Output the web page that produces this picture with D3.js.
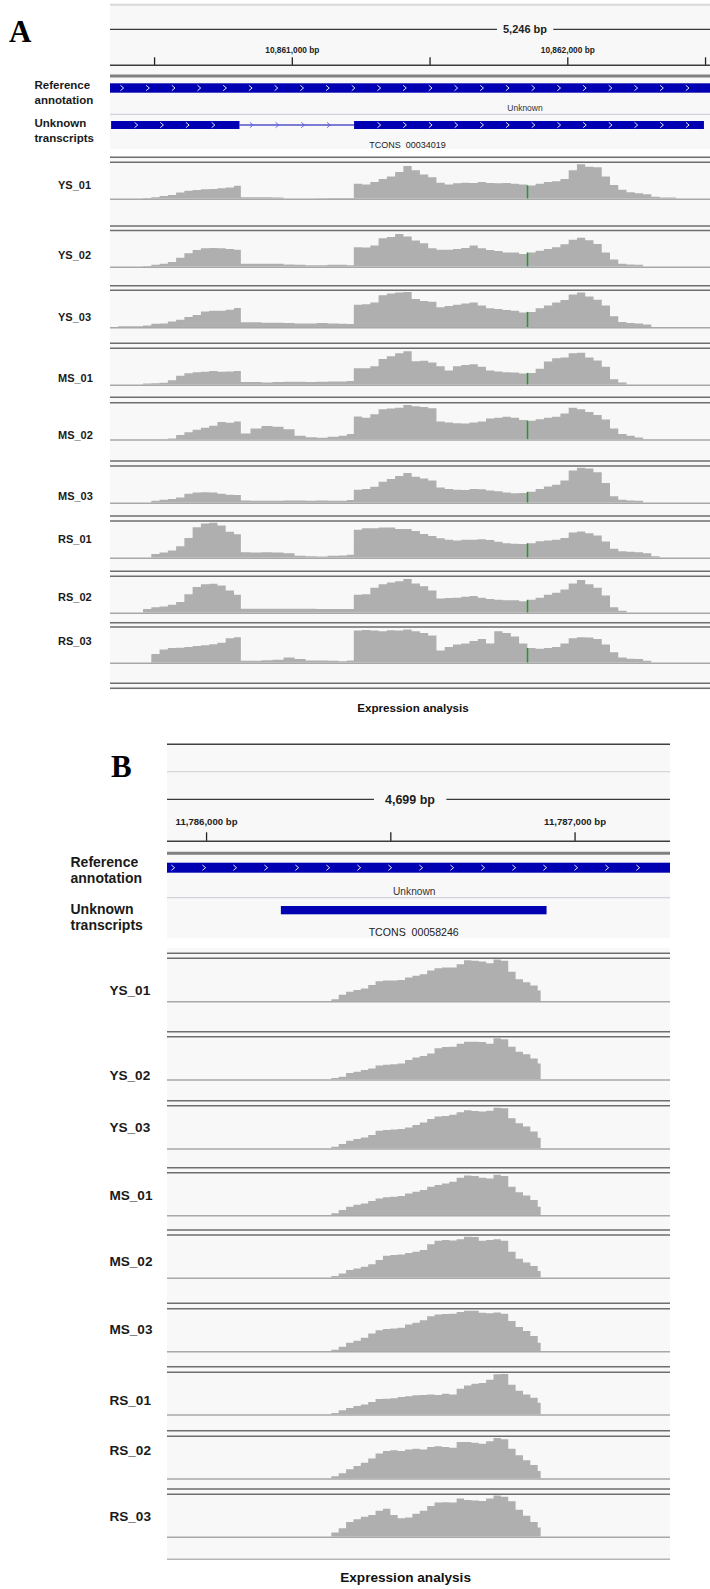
<!DOCTYPE html>
<html>
<head>
<meta charset="utf-8">
<script src="https://cdn.jsdelivr.net/npm/d3@7"></script>
<style>
  body { margin: 0; background: #fff; }
  text { font-family: "Liberation Sans", Arial, sans-serif; }
</style>
</head>
<body>
<div id="chart"></div>
<script>
// ---- data ----
const samples = ["YS_01", "YS_02", "YS_03", "MS_01", "MS_02", "MS_03", "RS_01", "RS_02", "RS_03"];

// panel A: locus around 10,861,000 bp
const spanLabelA = "5,246 bp";
const ticksA = [10860500, 10861000, 10861500, 10862000, 10862500];
const refFeatureA = [10860304, 10863389];
const exonsA = [[10860344, 10860810], [10861226, 10862496]];
const transcriptA = "TCONS  00034019";
const snpA = 10861855;

// coverage bins (bin start, bp) and relative depth (% of autoscale max)
const binsA = [10860370, 10860400, 10860430, 10860460, 10860490, 10860520, 10860550, 10860580, 10860610, 10860640,
  10860670, 10860700, 10860730, 10860760, 10860790,
  10860815, 10860850, 10860890, 10860930, 10860970, 10861010, 10861050, 10861090, 10861130, 10861170, 10861200,
  10861225, 10861255, 10861285, 10861315, 10861345, 10861375, 10861405, 10861435, 10861465, 10861495,
  10861525, 10861555, 10861585, 10861615, 10861645, 10861675, 10861705, 10861735, 10861765, 10861795,
  10861825, 10861855, 10861885, 10861915, 10861945, 10861975, 10862005, 10862035, 10862065, 10862095,
  10862125, 10862155, 10862185, 10862215, 10862245, 10862275, 10862305, 10862335, 10862365, 10862395];

const aYS01 = [0,0,0,2,4,7,10,17,22,24,26,27,29,31,36, 4,4,4,3,0,0,0,1,2,2,2,
  42,40,47,55,62,75,92,80,68,60, 45,40,43,45,44,47,44,43,44,42, 40,37,42,47,49,55,80,97,90,88, 62,38,25,18,15,12,5,3,3,0];
const aYS02 = [0,0,0,2,5,8,13,25,38,47,52,53,52,50,48, 8,8,8,8,6,5,4,4,5,5,4,
  55,54,60,80,84,92,85,74,66,52, 48,48,50,53,60,52,47,44,40,40, 36,40,45,50,55,63,76,82,75,64, 40,20,8,6,5,0,0,0,0,0];
const aYS03 = [2,2,2,4,9,10,15,20,28,33,43,45,45,48,53, 13,13,12,12,11,10,10,11,10,9,8,
  62,63,68,88,93,96,97,78,72,70, 55,58,62,65,68,60,52,50,47,45, 40,42,52,60,68,75,90,96,85,76, 60,30,14,11,10,7,0,0,0,0];
const aMS01 = [0,0,0,3,4,5,12,25,32,35,36,38,36,37,38, 7,7,6,7,8,8,7,8,9,9,10,
  46,46,52,72,80,88,94,66,67,62, 52,40,52,55,57,50,40,37,35,34, 31,33,45,65,74,76,88,90,76,68, 50,15,6,0,0,0,0,0,0,0];
const aMS02 = [0,0,0,0,0,0,2,12,20,27,32,38,48,46,50, 16,30,37,35,28,10,6,4,7,10,15,
  64,60,70,84,86,88,96,92,90,87, 50,47,45,44,47,50,58,60,63,60, 54,52,56,60,63,72,88,84,76,68, 55,30,15,10,5,0,0,0,0,0];
const aMS03 = [0,0,0,0,5,8,10,14,25,28,29,28,25,22,21, 6,5,5,5,6,6,5,6,5,5,7,
  36,38,44,58,66,74,83,72,67,62, 42,38,36,35,38,37,34,32,28,26, 27,30,38,45,50,62,90,97,95,85, 55,18,8,6,5,0,0,0,0,0];
const aRS01 = [0,0,0,0,10,14,20,32,55,85,95,97,90,72,65, 15,14,15,14,12,5,4,3,5,6,8,
  78,82,82,84,84,80,80,74,66,60, 54,50,48,50,50,51,49,44,40,39, 38,40,46,48,50,55,70,73,68,62, 45,25,18,16,15,12,4,0,0,0];
const aRS02 = [0,0,0,10,15,17,22,30,52,72,80,81,76,62,50, 11,11,11,11,11,11,11,10,10,10,10,
  50,52,70,80,85,88,95,82,74,62, 40,41,42,45,47,42,38,36,35,35, 32,36,42,50,56,65,82,92,80,70, 48,15,5,0,0,0,0,0,0,0];
const aRS03 = [0,0,0,0,25,38,42,43,45,48,50,53,57,70,73, 5,5,7,8,15,10,6,6,5,4,6,
  92,94,92,90,93,92,95,90,85,78, 35,45,52,55,62,68,55,90,85,75, 55,42,40,42,45,55,70,73,72,68, 52,30,15,11,10,5,0,0,0,0];
const tracksA = [aYS01, aYS02, aYS03, aMS01, aMS02, aMS03, aRS01, aRS02, aRS03];

// panel B: locus around 11,786,500 bp
const spanLabelB = "4,699 bp";
const ticksB = [11786000, 11786500, 11787000];
const refFeatureB = [11785860, 11787270];
const exonsB = [[11786203, 11786924]];
const transcriptB = "TCONS  00058246";

const binsB = [11786340, 11786360, 11786380, 11786400, 11786420, 11786440, 11786460, 11786480, 11786500, 11786520,
  11786540, 11786560, 11786580, 11786600, 11786620, 11786640, 11786660, 11786680, 11786700, 11786720,
  11786740, 11786760, 11786780, 11786800, 11786820, 11786840, 11786860, 11786880, 11786900, 11786908];

const bYS01 = [4,15,22,26,30,38,47,49,49,50,56,60,64,73,78,80,80,88,97,96,94,90,99,96,70,52,45,37,25,0];
const bYS02 = [3,6,15,18,22,26,33,35,36,38,46,52,56,62,74,77,78,85,90,90,89,85,98,96,78,66,60,50,38,0];
const bYS03 = [4,10,18,22,26,32,42,44,45,46,50,56,62,70,76,77,80,86,91,89,88,90,97,96,72,60,52,40,25,0];
const bMS01 = [4,12,20,25,28,34,40,43,44,46,52,56,60,68,72,76,80,90,95,94,90,88,97,94,68,55,47,36,20,0];
const bMS02 = [4,10,18,22,26,32,42,52,54,55,59,62,66,80,88,90,89,92,98,97,88,90,92,88,62,45,36,28,16,0];
const bMS03 = [3,10,20,25,32,42,50,53,54,56,64,68,74,84,88,89,90,94,97,97,92,91,93,90,72,58,48,36,20,0];
const bRS01 = [3,10,15,20,24,30,37,38,39,42,44,46,47,48,47,50,48,62,70,74,76,84,97,98,72,57,48,40,28,0];
const bRS02 = [5,12,22,30,38,48,60,66,68,66,70,72,70,76,78,76,74,88,88,86,84,90,98,95,72,56,44,32,18,0];
const bRS03 = [10,20,35,42,48,52,62,67,52,44,46,55,62,74,82,83,82,92,88,87,86,92,99,96,85,65,50,35,22,0];
const tracksB = [bYS01, bYS02, bYS03, bMS01, bMS02, bMS03, bRS01, bRS02, bRS03];

// ---- layout ----
const W = 710, H = 1589;
const blue = "#0000b2", covFill = "#afafaf", panelBg = "#f8f8f8";

const panelA = {
  x: d3.scaleLinear().domain([10860340, 10862518]).range([110, 710]),
  letter: "A", letterX: 9, letterY: 41.7,
  headTop: 5.5, headBottom: 149, tracksTop: 156, tracksBottom: 690,
  topLine: 4.7, topLineColor: "#d8d8d8", topLineW: 2,
  subLine: null,
  spanX: 525, spanY: 29.3, spanFont: 11, spanGap: 6, spanLabel: spanLabelA,
  ticks: ticksA, tickLen: 8, tickPad: 4.8, tickFont: 8.3, rulerY: 65.3,
  thickY: 76,
  refY: 83.3, refH: 9.4, refFeature: refFeatureA,
  unknownY: 111, unknownFont: 8.5,
  sepY: 114.3,
  exY: 121, exH: 8, exons: exonsA, exonChevrons: true,
  tconsY: 148, tconsFont: 9, tcons: transcriptA,
  chevStep: 25.7, chevOff: 12, exChevOff: 25,
  labelX: 34.5, labelFont: 11.5,
  annotLabels: [["Reference", 89.3], ["annotation", 104], ["Unknown", 126.6], ["transcripts", 141.5]],
  bins: binsA, tracks: tracksA, snp: snpA,
  trackPos: [[157.3,162.3,199.3],[226,230.5,267.3],[285.7,290.2,327.7],[343.3,348.3,385.3],[397.3,402.7,440],
             [461,466,503.3],[516,521,558.3],[571.3,576.3,613.3],[622.7,627,663.3]],
  trackLabelX: 58, trackLabelFont: 11,
  trackLabelY: [185, 255, 317, 378, 435.5, 496, 539, 597.5, 641],
  endLines: [683.3, 688.3], endColor: "#6e6e6e",
  titleX: 413, titleY: 712, titleFont: 11.6
};

const panelB = {
  x: d3.scaleLinear().domain([11785894, 11787259]).range([167, 670]),
  letter: "B", letterX: 111, letterY: 777.3,
  headTop: 744.3, headBottom: 938, tracksTop: 948, tracksBottom: 1559.3,
  topLine: 744.3, topLineColor: "#404040", topLineW: 1.5,
  subLine: 771.7,
  spanX: 410, spanY: 799.3, spanFont: 12.5, spanGap: 11, spanLabel: spanLabelB,
  ticks: ticksB, tickLen: 9, tickPad: 7, tickFont: 9.6, rulerY: 841.3,
  thickY: 853.3,
  refY: 862.7, refH: 10, refFeature: refFeatureB,
  unknownY: 894.5, unknownFont: 10.2,
  sepY: 897.7,
  exY: 906, exH: 8.3, exons: exonsB, exonChevrons: false,
  tconsY: 936, tconsFont: 10.6, tcons: transcriptB,
  chevStep: 31, chevOff: 6, exChevOff: 0,
  labelX: 70.5, labelFont: 14,
  annotLabels: [["Reference", 866.7], ["annotation", 882.7], ["Unknown", 914], ["transcripts", 929.5]],
  bins: binsB, tracks: tracksB, snp: null,
  trackPos: [[953.3,958.3,1001.7],[1031.7,1036.7,1080],[1100.7,1105.7,1149],[1167.7,1172.7,1215.7],[1230,1235,1278.3],
             [1303.3,1308.7,1351.7],[1366.7,1372.3,1415],[1430.7,1436.3,1479],[1489,1494.3,1537.3]],
  trackLabelX: 109.4, trackLabelFont: 13.6,
  trackLabelY: [990.5, 1075.6, 1127, 1195, 1261, 1329, 1399.7, 1450, 1516],
  endLines: [1559.3], endColor: "#b5b5b5",
  titleX: 405.6, titleY: 1582, titleFont: 13.6
};

const svg = d3.select("#chart").append("svg")
  .attr("width", W)
  .attr("height", H);

svg.append("rect").attr("width", W).attr("height", H).attr("fill", "#fff");

function chevrons(g, from, to, yMid, step, color) {
  const xs = d3.range(from, to - 2, step);
  g.selectAll(null)
    .data(xs)
    .enter()
    .append("path")
    .attr("d", (d) => `M${d - 1.6},${yMid - 2.7}L${d + 1.6},${yMid}L${d - 1.6},${yMid + 2.7}`)
    .attr("fill", "none")
    .attr("stroke", color)
    .attr("stroke-width", 0.9);
}

function hline(g, y, x0, x1, color, w) {
  g.append("line")
    .attr("x1", x0).attr("x2", x1)
    .attr("y1", y).attr("y2", y)
    .attr("stroke", color)
    .attr("stroke-width", w);
}

function drawPanel(P) {
  const x = P.x;
  const [L, R] = x.range();
  const clamp = (v) => Math.max(L, Math.min(R, v));
  const g = svg.append("g");

  // backgrounds
  g.append("rect").attr("x", L).attr("y", P.headTop)
    .attr("width", R - L).attr("height", P.headBottom - P.headTop).attr("fill", panelBg);
  g.append("rect").attr("x", L).attr("y", P.tracksTop)
    .attr("width", R - L).attr("height", P.tracksBottom - P.tracksTop).attr("fill", panelBg);

  // panel letter
  g.append("text")
    .attr("x", P.letterX).attr("y", P.letterY)
    .style("font-family", "'Liberation Serif', 'Times New Roman', serif")
    .attr("font-weight", "bold")
    .attr("font-size", 31)
    .text(P.letter);

  hline(g, P.topLine, L, R, P.topLineColor, P.topLineW);
  if (P.subLine) hline(g, P.subLine, L, R, "#d0d0d0", 1);

  // ruler: span label with line either side
  const spanText = g.append("text")
    .attr("x", P.spanX)
    .attr("y", P.spanY)
    .attr("dy", "0.36em")
    .attr("text-anchor", "middle")
    .attr("font-size", P.spanFont)
    .attr("font-weight", "bold")
    .attr("fill", "#1e1e1e")
    .text(P.spanLabel);
  const bb = spanText.node().getBBox();
  hline(g, P.spanY, L, bb.x - P.spanGap, "#3a3a3a", 1.2);
  hline(g, P.spanY, bb.x + bb.width + P.spanGap, R, "#3a3a3a", 1.2);

  // ruler: ticks
  const axis = d3.axisTop(x)
    .tickValues(P.ticks)
    .tickSize(P.tickLen)
    .tickPadding(P.tickPad)
    .tickFormat((d) => (d % 1000 === 0 ? d3.format(",")(d) + " bp" : ""));
  const ag = g.append("g")
    .attr("transform", `translate(0,${P.rulerY})`)
    .call(axis)
    .attr("font-family", "'Liberation Sans', Arial, sans-serif")
    .attr("font-size", P.tickFont);
  ag.select(".domain").remove();
  ag.selectAll(".tick line").attr("stroke", "#222").attr("stroke-width", 1.3);
  ag.selectAll(".tick text").attr("font-weight", "bold").attr("fill", "#222");
  hline(g, P.rulerY, L, R, "#3c3c3c", 1.6);

  // annotation tracks
  hline(g, P.thickY, L, R, "#808080", 3);

  const rx0 = clamp(x(P.refFeature[0])), rx1 = clamp(x(P.refFeature[1]));
  g.append("rect")
    .attr("x", rx0).attr("y", P.refY)
    .attr("width", rx1 - rx0).attr("height", P.refH)
    .attr("fill", blue);
  chevrons(g, rx0 + P.chevOff, rx1, P.refY + P.refH / 2, P.chevStep, "#ffffff");
  g.append("text")
    .attr("x", (x(P.refFeature[0]) + x(P.refFeature[1])) / 2)
    .attr("y", P.unknownY)
    .attr("text-anchor", "middle")
    .attr("font-size", P.unknownFont)
    .attr("fill", "#333")
    .text("Unknown");
  hline(g, P.sepY, L, R, "#d2d2dc", 1.2);

  // transcript model
  const exMid = P.exY + P.exH / 2;
  for (let i = 0; i < P.exons.length - 1; i++) {
    const a = x(P.exons[i][1]), b = x(P.exons[i + 1][0]);
    hline(g, exMid, a, b, blue, 1.1);
    chevrons(g, a + 12, b, exMid, P.chevStep, "#5a5aff");
  }
  P.exons.forEach((e) => {
    const e0 = clamp(x(e[0])), e1 = clamp(x(e[1]));
    g.append("rect")
      .attr("x", e0).attr("y", P.exY)
      .attr("width", e1 - e0).attr("height", P.exH)
      .attr("fill", blue);
    if (P.exonChevrons) chevrons(g, e0 + P.exChevOff, e1, exMid, P.chevStep, "#ffffff");
  });
  g.append("text")
    .attr("x", (x(P.exons[0][0]) + x(P.exons[P.exons.length - 1][1])) / 2)
    .attr("y", P.tconsY)
    .attr("text-anchor", "middle")
    .attr("font-size", P.tconsFont)
    .attr("fill", "#222")
    .style("white-space", "pre")
    .text(P.tcons);

  // left labels
  P.annotLabels.forEach(([t, y]) => {
    g.append("text")
      .attr("x", P.labelX).attr("y", y)
      .attr("font-size", P.labelFont)
      .attr("font-weight", "bold")
      .attr("fill", "#1a1a1a")
      .text(t);
  });

  // coverage tracks
  P.tracks.forEach((vals, i) => {
    const [y1, y2, yb] = P.trackPos[i];
    const y = d3.scaleLinear().domain([0, 100]).range([yb - 0.7, y2 + 0.8]);

    const area = d3.area()
      .x((d, j) => x(P.bins[j]))
      .y0(y(0))
      .y1((d) => y(d))
      .curve(d3.curveStepAfter);

    g.append("path")
      .datum(vals)
      .attr("d", area)
      .attr("fill", covFill);

    if (P.snp) {
      const j = P.bins.indexOf(P.snp);
      g.append("rect")
        .attr("x", x(P.snp) - 0.6)
        .attr("y", y(vals[j]))
        .attr("width", 1.5)
        .attr("height", y(0) - y(vals[j]))
        .attr("fill", "#1f9a2a");
    }

    hline(g, y1, L, R, "#6e6e6e", 1.6);
    hline(g, y2, L, R, "#6e6e6e", 1.6);
    hline(g, yb, L, R, "#a8a8a8", 1.4);

    g.append("text")
      .attr("x", P.trackLabelX)
      .attr("y", P.trackLabelY[i])
      .attr("dy", "0.36em")
      .attr("font-size", P.trackLabelFont)
      .attr("font-weight", "bold")
      .attr("fill", "#1a1a1a")
      .text(samples[i]);
  });

  P.endLines.forEach((y) => hline(g, y, L, R, P.endColor, 1.6));

  g.append("text")
    .attr("x", P.titleX)
    .attr("y", P.titleY)
    .attr("text-anchor", "middle")
    .attr("font-size", P.titleFont)
    .attr("font-weight", "bold")
    .attr("fill", "#111")
    .text("Expression analysis");
}

drawPanel(panelA);
drawPanel(panelB);
</script>
</body>
</html>
